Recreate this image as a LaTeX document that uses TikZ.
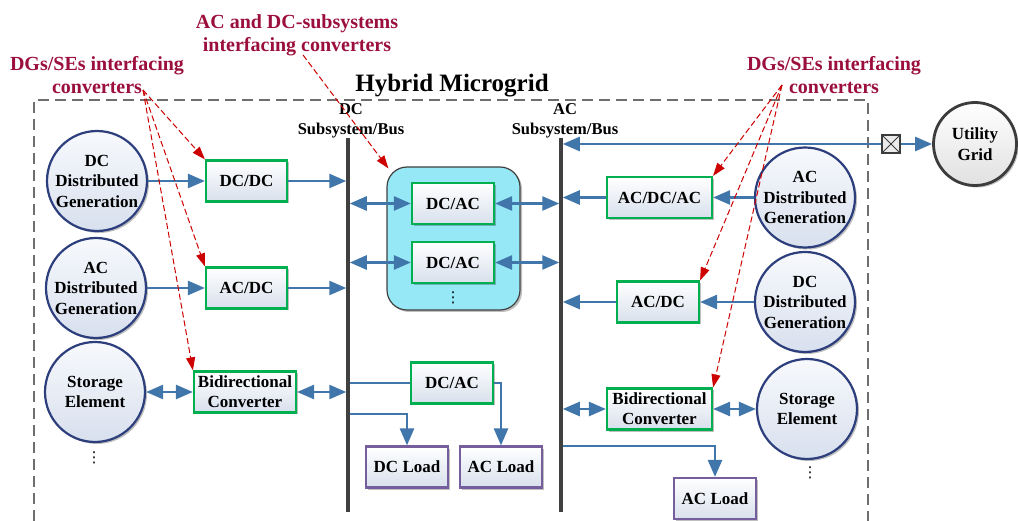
\documentclass[tikz,border=0pt]{standalone}
\usepackage{fontspec}
\setmainfont{Liberation Serif}
\newfontfamily\symfont{DejaVu Sans}
\usetikzlibrary{arrows.meta,shadows,calc}

\definecolor{flowblue}{RGB}{65,118,170}
\definecolor{convgreen}{RGB}{0,176,80}
\definecolor{loadpurple}{RGB}{118,94,156}
\definecolor{circblue}{RGB}{45,62,125}
\definecolor{boxbot}{RGB}{216,224,236}
\definecolor{circtop}{RGB}{247,249,252}
\definecolor{circbot}{RGB}{216,224,238}
\definecolor{cyanfill}{RGB}{150,232,246}
\definecolor{busgray}{RGB}{64,64,64}
\definecolor{hintred}{RGB}{205,0,0}
\definecolor{labelred}{RGB}{155,15,60}
\definecolor{framegray}{RGB}{110,110,110}
\definecolor{gridgray}{RGB}{60,60,60}

\begin{document}
\begin{tikzpicture}[x=1pt,y=-1pt,
  shad/.style={drop shadow={shadow xshift=2pt,shadow yshift=-2pt,fill=black,opacity=0.25}},
  conv/.style={shad, draw=convgreen, line width=2.2pt, top color=white, bottom color=boxbot,
    minimum height=41pt, inner sep=2pt, align=center,
    font=\bfseries\fontsize{17}{20}\selectfont},
  loadbox/.style={conv, draw=loadpurple},
  src/.style={shad, circle, draw=circblue, line width=2.2pt, top color=circtop, bottom color=circbot,
    minimum size=100pt, inner sep=0pt, align=center,
    font=\bfseries\fontsize{17}{20.5}\selectfont},
  flow/.style={draw=flowblue, line width=2.6pt, -{Triangle[length=17pt,width=14pt]}},
  flowbi/.style={draw=flowblue, line width=2.6pt, {Triangle[length=17pt,width=14pt]}-{Triangle[length=17pt,width=14pt]}},
  wire/.style={draw=flowblue, line width=2.6pt},
  bus/.style={draw=busgray, line width=3.5pt},
  hint/.style={draw=hintred, line width=1pt, dash pattern=on 6pt off 3pt, -{Triangle[length=13pt,width=9pt]}},
  hintlab/.style={text=labelred, align=center, inner sep=0pt, font=\bfseries\fontsize{20}{23}\selectfont},
  buslab/.style={align=center, inner sep=0pt, font=\bfseries\fontsize{16.5}{20}\selectfont},
  dotsstyle/.style={inner sep=0pt, font=\symfont\fontsize{15}{15}\selectfont}
]
\useasboundingbox (0,0) rectangle (1018,521);

% frame
\draw[framegray, line width=1.3pt, dash pattern=on 11pt off 6pt] (34,521) -- (34,100) -- (868,100) -- (868,521);

% title and labels
\node[anchor=base, inner sep=0pt, font=\bfseries\fontsize{25}{30}\selectfont] (title) at (452,92) {Hybrid Microgrid};
\node[hintlab, anchor=north] (labL) at (97,56.5) {DGs/SEs interfacing\\converters};
\node[hintlab, anchor=north] (labM) at (297,14) {AC and DC-subsystems\\interfacing converters};
\node[hintlab, anchor=north] (labR) at (834,56.5) {DGs/SEs interfacing\\converters};
\node[buslab, anchor=north] (dclab) at (351,103) {DC\\Subsystem/Bus};
\node[buslab, anchor=north] (aclab) at (565,103) {AC\\Subsystem/Bus};

% bus coordinates
\coordinate (dcT) at (348,138);
\coordinate (dcB) at (348,512);
\coordinate (acT) at (561,138);
\coordinate (acB) at (561,512);

% left sources
\node[src] (dgdc) at (97,181) {DC\\Distributed\\Generation};
\node[src] (dgac) at (96,288) {AC\\Distributed\\Generation};
\node[src] (seL) at (95,392) {Storage\\Element};
\node[dotsstyle] (dotsL) at (94,458) {⋮};

% left converters
\node[conv, minimum width=81pt] (dcdc) at (246.5,181) {DC/DC};
\node[conv, minimum width=81pt] (acdcL) at (246.5,288) {AC/DC};
\node[conv, minimum width=102pt] (bidL) at (245,392) {Bidirectional\\Converter};

% middle interlinking converters
\node[shad, draw=busgray, line width=1.2pt, fill=cyanfill, rounded corners=20pt,
  minimum width=133pt, minimum height=143pt] (cyan) at (453.5,238.5) {};
\node[conv, minimum width=82pt] (dcac1) at (453,203.5) {DC/AC};
\node[conv, minimum width=82pt] (dcac2) at (453,262.5) {DC/AC};
\node[dotsstyle] (dotsM) at (453,298) {⋮};

% lower middle
\node[conv, minimum width=82pt] (dcac3) at (452,383) {DC/AC};
\node[loadbox, minimum width=82pt] (dcl) at (407,467) {DC Load};
\node[loadbox, minimum width=82pt] (acl1) at (501,467) {AC Load};

% right converters
\node[conv, minimum width=105pt] (acdcac) at (659.5,197.5) {AC/DC/AC};
\node[conv, minimum width=82pt] (acdcR) at (658,302) {AC/DC};
\node[conv, minimum width=105pt] (bidR) at (659.5,409) {Bidirectional\\Converter};
\node[loadbox, minimum width=82pt] (acl2) at (715,498.5) {AC Load};

% right sources
\node[src] (dgacR) at (805,197.5) {AC\\Distributed\\Generation};
\node[src] (dgdcR) at (805,302) {DC\\Distributed\\Generation};
\node[src] (seR) at (807,409) {Storage\\Element};
\node[dotsstyle] (dotsR) at (810,473) {⋮};

% utility grid and switch
\node[shad, circle, draw=gridgray, line width=2.8pt, top color=white, bottom color=black!12,
  minimum size=83pt, inner sep=0pt, align=center,
  font=\bfseries\fontsize{17}{20.5}\selectfont] (grid) at (975,144) {Utility\\Grid};
\node[draw=gridgray, line width=1.2pt, fill=black!8, minimum size=18pt, inner sep=0pt,
  path picture={\draw[gridgray, line width=0.8pt]
    (path picture bounding box.north west) -- (path picture bounding box.south east)
    (path picture bounding box.north east) -- (path picture bounding box.south west);}] (sw) at (891,144) {};

% left connectors
\draw[flow] (dgdc) -- (dcdc);
\draw[flow, shorten >=1.75pt] (dcdc.east) -- (dcdc.east -| dcT);
\draw[flow] (dgac) -- (acdcL);
\draw[flow, shorten >=1.75pt] (acdcL.east) -- (acdcL.east -| dcT);
\draw[flowbi] (seL) -- (bidL);
\draw[flowbi, shorten >=1.75pt] (bidL.east) -- (bidL.east -| dcT);

% interlinking connectors
\draw[flowbi, shorten <=1.75pt] (dcac1.west -| dcT) -- (dcac1.west);
\draw[flowbi, shorten <=1.75pt] (dcac2.west -| dcT) -- (dcac2.west);
\draw[flowbi, shorten >=1.75pt] (dcac1.east) -- (dcac1.east -| acT);
\draw[flowbi, shorten >=1.75pt] (dcac2.east) -- (dcac2.east -| acT);

% loads
\draw[wire] (dcac3.west -| dcT) -- (dcac3.west);
\draw[flow] (dcac3.east) -| (acl1.north);
\coordinate (tapdc) at (348,414);
\draw[flow] (tapdc) -| (dcl.north);
\coordinate (tapac) at (561,446);
\draw[flow] (tapac) -| (acl2.north);

% right connectors
\draw[flow] (dgacR) -- (acdcac);
\draw[flow, shorten >=1.75pt] (acdcac.west) -- (acdcac.west -| acT);
\draw[flow] (dgdcR) -- (acdcR);
\draw[flow, shorten >=1.75pt] (acdcR.west) -- (acdcR.west -| acT);
\draw[flowbi] (bidR) -- (seR);
\draw[flowbi, shorten <=1.75pt] (bidR.west -| acT) -- (bidR.west);
\draw[flow, shorten >=1.75pt] (sw.west) -- (sw.west -| acT);
\draw[flow] (sw.east) -- (grid.west);

% buses
\draw[bus] (dcT) -- (dcB);
\draw[bus] (acT) -- (acB);

% hint arrows
\coordinate (oL) at (143,90);
\coordinate (oM) at (303,55);
\coordinate (oR) at (782,85);
\draw[hint] (oL) -- (dcdc.north west);
\draw[hint] (oL) -- (acdcL.north west);
\draw[hint] (oL) -- (bidL.north west);
\draw[hint] (oM) -- ([shift={(2,2)}]cyan.north west);
\draw[hint] (oR) -- (acdcac.north east);
\draw[hint] (oR) -- (acdcR.north east);
\draw[hint] (oR) -- (bidR.north east);
\end{tikzpicture}
\end{document}
